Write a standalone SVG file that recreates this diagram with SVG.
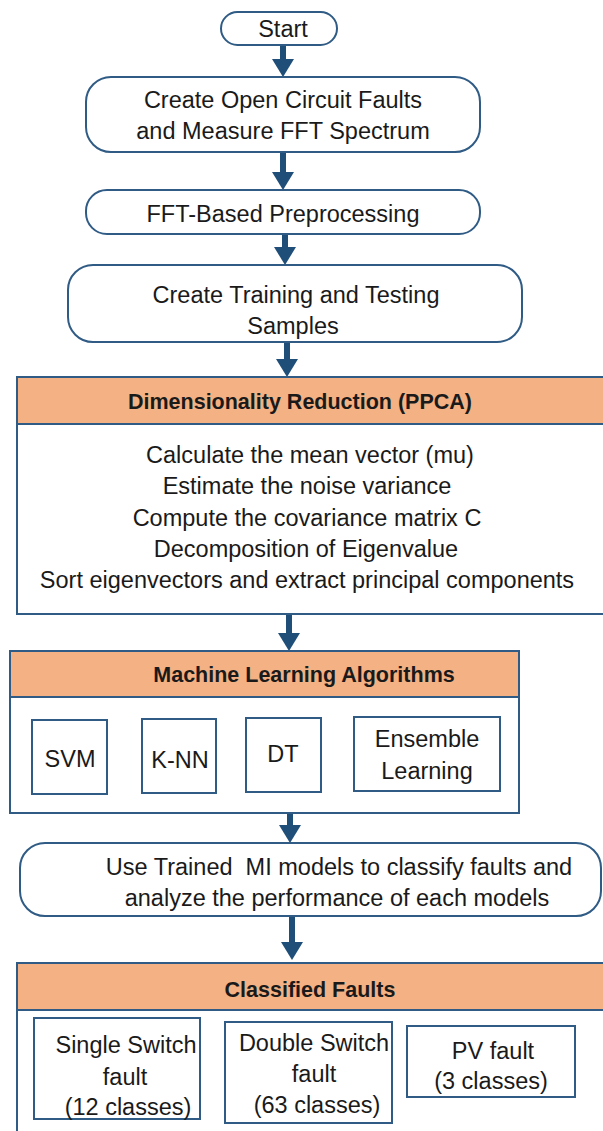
<svg xmlns="http://www.w3.org/2000/svg" width="603" height="1131" viewBox="0 0 603 1131">
<style>
.box{fill:#fff;stroke:#2F5B85;stroke-width:2}
.hdr{fill:#F4B183;stroke:#2F5B85;stroke-width:2}
.t{font-family:"Liberation Sans",Arial,sans-serif;font-size:23.5px;fill:#1a1a1a;text-anchor:middle}
.b{font-family:"Liberation Sans",Arial,sans-serif;font-size:21.5px;font-weight:bold;fill:#1a1a1a;text-anchor:middle}
.c{stroke:#1F4E79;stroke-width:6;fill:none}
</style>
<defs>
<marker id="ah" markerUnits="userSpaceOnUse" markerWidth="20" markerHeight="22" viewBox="0 0 20 22" refX="0" refY="11" orient="auto">
<path d="M0,0 L18,11 L0,22 z" fill="#1F4E79"/>
</marker>
</defs>
<rect width="603" height="1131" fill="#fff"/>

<g id="connectors">
<line class="c" x1="283" y1="45" x2="283" y2="59" marker-end="url(#ah)"/>
<line class="c" x1="283" y1="152" x2="283" y2="172" marker-end="url(#ah)"/>
<line class="c" x1="285" y1="234" x2="285" y2="247" marker-end="url(#ah)"/>
<line class="c" x1="287" y1="342" x2="287" y2="359" marker-end="url(#ah)"/>
<line class="c" x1="289" y1="614" x2="289" y2="633" marker-end="url(#ah)"/>
<line class="c" x1="290" y1="813" x2="290" y2="825" marker-end="url(#ah)"/>
<line class="c" x1="292" y1="916" x2="292" y2="942" marker-end="url(#ah)"/>
</g>

<g id="start">
<rect class="box" x="221" y="12" width="116" height="33" rx="16.5"/>
<text class="t" x="283" y="37">Start</text>
</g>

<g id="create-faults">
<rect class="box" x="86" y="77" width="394" height="75" rx="25"/>
<text class="t" x="283" y="108">Create Open Circuit Faults</text>
<text class="t" x="283" y="139">and Measure FFT Spectrum</text>
</g>

<g id="fft-preprocessing">
<rect class="box" x="86" y="190" width="394" height="44" rx="21"/>
<text class="t" x="283" y="222">FFT-Based Preprocessing</text>
</g>

<g id="training-samples">
<rect class="box" x="68" y="265" width="454" height="77" rx="25"/>
<text class="t" x="296" y="303">Create Training and Testing</text>
<text class="t" x="293" y="334">Samples</text>
</g>

<g id="ppca">
<rect class="box" x="17" y="377" width="590" height="237"/>
<rect class="hdr" x="17" y="377" width="590" height="47"/>
<text class="b" x="300" y="409">Dimensionality Reduction (PPCA)</text>
<text class="t" x="310" y="463">Calculate the mean vector (mu)</text>
<text class="t" x="307" y="494">Estimate the noise variance</text>
<text class="t" x="307" y="526">Compute the covariance matrix C</text>
<text class="t" x="306" y="557">Decomposition of Eigenvalue</text>
<text class="t" x="307" y="588">Sort eigenvectors and extract principal components</text>
</g>

<g id="ml">
<rect class="box" x="10" y="651" width="509" height="162"/>
<rect class="hdr" x="10" y="651" width="509" height="46"/>
<text class="b" x="304" y="682">Machine Learning Algorithms</text>
</g>
<g id="svm">
<rect class="box" x="32" y="720" width="75" height="74"/>
<text class="t" x="70" y="767">SVM</text>
</g>
<g id="knn">
<rect class="box" x="142" y="719" width="74" height="74"/>
<text class="t" x="180" y="768">K-NN</text>
</g>
<g id="dt">
<rect class="box" x="246" y="718" width="75" height="74"/>
<text class="t" x="283" y="762">DT</text>
</g>
<g id="ensemble">
<rect class="box" x="354" y="717" width="146" height="74"/>
<text class="t" x="427" y="747">Ensemble</text>
<text class="t" x="427" y="779">Learning</text>
</g>

<g id="use-models">
<rect class="box" x="20" y="843" width="581" height="73" rx="25"/>
<text class="t" x="339" y="875" xml:space="preserve">Use Trained  MI models to classify faults and</text>
<text class="t" x="337" y="906">analyze the performance of each models</text>
</g>

<g id="classified">
<rect class="box" x="17" y="963" width="590" height="180"/>
<rect class="hdr" x="17" y="963" width="590" height="47"/>
<text class="b" x="310" y="997">Classified Faults</text>
</g>
<g id="single">
<rect class="box" x="34" y="1018" width="166" height="101"/>
<text class="t" x="126" y="1053">Single Switch</text>
<text class="t" x="125" y="1085">fault</text>
<text class="t" x="128" y="1115">(12 classes)</text>
</g>
<g id="double">
<rect class="box" x="225" y="1022" width="167" height="101"/>
<text class="t" x="314" y="1051">Double Switch</text>
<text class="t" x="314" y="1082">fault</text>
<text class="t" x="317" y="1113">(63 classes)</text>
</g>
<g id="pv">
<rect class="box" x="407" y="1026" width="168" height="71"/>
<text class="t" x="493" y="1059">PV fault</text>
<text class="t" x="491" y="1089">(3 classes)</text>
</g>
</svg>
